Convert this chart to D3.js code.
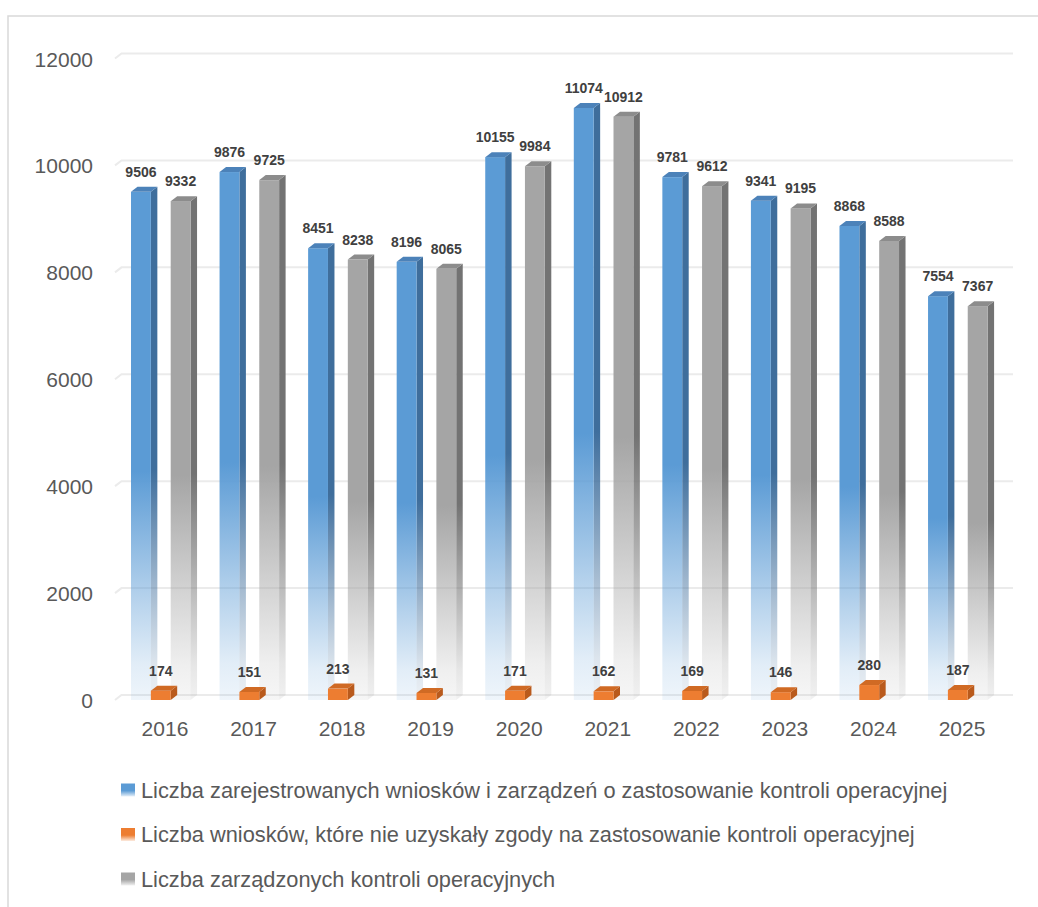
<!DOCTYPE html>
<html><head><meta charset="utf-8">
<script src="https://cdn.jsdelivr.net/npm/d3@7"></script>
<style>body{margin:0;background:#fff;overflow:hidden}</style>
</head><body>
<svg id="chart" width="1038" height="907"></svg>
<script>
// ---- data ----
const years = ["2016","2017","2018","2019","2020","2021","2022","2023","2024","2025"];
const registered = [9506,9876,8451,8196,10155,11074,9781,9341,8868,7554];
const rejected = [174,151,213,131,171,162,169,146,280,187];
const ordered = [9332,9725,8238,8065,9984,10912,9612,9195,8588,7367];
const yTicks = [0,2000,4000,6000,8000,10000,12000];
const seriesKeys = ["registered","rejected","ordered"];
const seriesNames = [
  "Liczba zarejestrowanych wniosków i zarządzeń o zastosowanie kontroli operacyjnej",
  "Liczba wniosków, które nie uzyskały zgody na zastosowanie kontroli operacyjnej",
  "Liczba zarządzonych kontroli operacyjnych"
];
const seriesValues = {registered, rejected, ordered};

// ---- styles ----
const colors = {
  registered: {front:"#5B9BD5", side:"#3F6E9C", top:"#4C82B9"},
  rejected:   {front:"#ED7D31", side:"#B95A1C", top:"#D06A24"},
  ordered:    {front:"#A5A5A5", side:"#737373", top:"#8C8C8C"}
};
const FONT = "'Liberation Sans', Arial, sans-serif";
const DX = 6.5, DY = -5;

const svg = d3.select("#chart");
const defs = svg.append("defs");

function makeGrad(id, color, stops) {
  const g = defs.append("linearGradient").attr("id", id)
    .attr("x1",0).attr("y1",0).attr("x2",0).attr("y2",1);
  stops.forEach(s => g.append("stop").attr("offset", s[0]).attr("stop-color", color).attr("stop-opacity", s[1]));
}
const fadeStops = [[0,1],[0.55,1],[0.8,0.45],[0.93,0.18],[1,0.1]];
seriesKeys.forEach(k => {
  if (k === "rejected") {
    makeGrad(k+"-front", colors[k].front, [[0,1],[1,1]]);
    makeGrad(k+"-side", colors[k].side, [[0,1],[1,1]]);
  } else {
    makeGrad(k+"-front", colors[k].front, fadeStops);
    makeGrad(k+"-side", colors[k].side, fadeStops);
  }
  makeGrad(k+"-legend", colors[k].front, [[0,1],[0.55,1],[1,0.15]]);
});

// border
svg.append("path").attr("d","M8,907 V16 H1038").attr("fill","none")
  .attr("stroke","#D9D9D9").attr("stroke-width",1.5);

// ---- scales ----
const x = d3.scaleBand().domain(years).range([120.7, 1006.3]).padding(0);
const xs = d3.scaleBand().domain(seriesKeys).range([10.3, 10.3 + 3*19.85]).padding(0);
const y = d3.scaleLinear().domain([0,12000]).range([700, 58.5]);

// gridlines (back wall with 3D slant at left)
const grid = svg.append("g");
yTicks.forEach(t => {
  const yy = y(t);
  grid.append("path")
    .attr("d", `M115,${yy} L${115+DX},${yy+DY} L1013,${yy+DY}`)
    .attr("fill","none").attr("stroke","#EBEBEB").attr("stroke-width",2);
});

// y axis labels
const yAxis = d3.axisLeft(y).tickValues(yTicks).tickSize(0).tickPadding(0).tickFormat(d3.format("d"));
const yg = svg.append("g").attr("transform","translate(93,0)").call(yAxis);
yg.select(".domain").remove();
yg.selectAll("text").attr("font-family",FONT).attr("font-size",21).attr("fill","#595959").attr("dy","0.36em");

// x axis labels
const xAxis = d3.axisBottom(x).tickSize(0).tickPadding(0);
const xg = svg.append("g").attr("transform","translate(0,717)").call(xAxis);
xg.select(".domain").remove();
xg.selectAll("text").attr("font-family",FONT).attr("font-size",21).attr("fill","#595959").attr("dy","0.9em");

// ---- bars ----
const barW = xs.bandwidth();
function drawBar(g, k, x0, v) {
  const yt = y(v), yb = y(0);
  const c = colors[k];
  // side
  g.append("path")
    .attr("d", `M${x0+barW},${yb} L${x0+barW},${yt} L${x0+barW+DX},${yt+DY} L${x0+barW+DX},${yb+DY} Z`)
    .attr("fill", `url(#${k}-side)`);
  // front
  g.append("rect").attr("x", x0).attr("y", yt).attr("width", barW).attr("height", yb-yt)
    .attr("fill", `url(#${k}-front)`);
  // top
  g.append("path")
    .attr("d", `M${x0},${yt} L${x0+DX},${yt+DY} L${x0+barW+DX},${yt+DY} L${x0+barW},${yt} Z`)
    .attr("fill", c.top);
}
const bars = svg.append("g");
const labels = svg.append("g");
years.forEach((yr, i) => {
  const g = bars.append("g");
  ["registered","ordered","rejected"].forEach(k => {
    const x0 = x(yr) + xs(k);
    const v = seriesValues[k][i];
    drawBar(g, k, x0, v);
    labels.append("text")
      .attr("x", x0 + barW/2).attr("y", y(v) - 15)
      .attr("text-anchor","middle").attr("font-family",FONT).attr("font-weight","bold")
      .attr("font-size",14).attr("fill","#404040").text(v);
  });
});

// ---- legend ----
const rowsY = [790, 834.5, 879];
const leg = svg.append("g");
seriesKeys.forEach((k, i) => {
  leg.append("rect").attr("x",121).attr("y",rowsY[i]-6.5).attr("width",14).attr("height",13)
    .attr("fill",`url(#${k}-legend)`);
  leg.append("text").attr("class","legtext").attr("x",141).attr("y",rowsY[i]).attr("dy","0.35em")
    .attr("font-family",FONT).attr("font-size",18).attr("fill","#595959").text(seriesNames[i]);
});
const firstW = leg.select(".legtext").node().getComputedTextLength();
const fs = 18 * 807 / firstW;
leg.selectAll(".legtext").attr("font-size", fs);
</script>
</body></html>
